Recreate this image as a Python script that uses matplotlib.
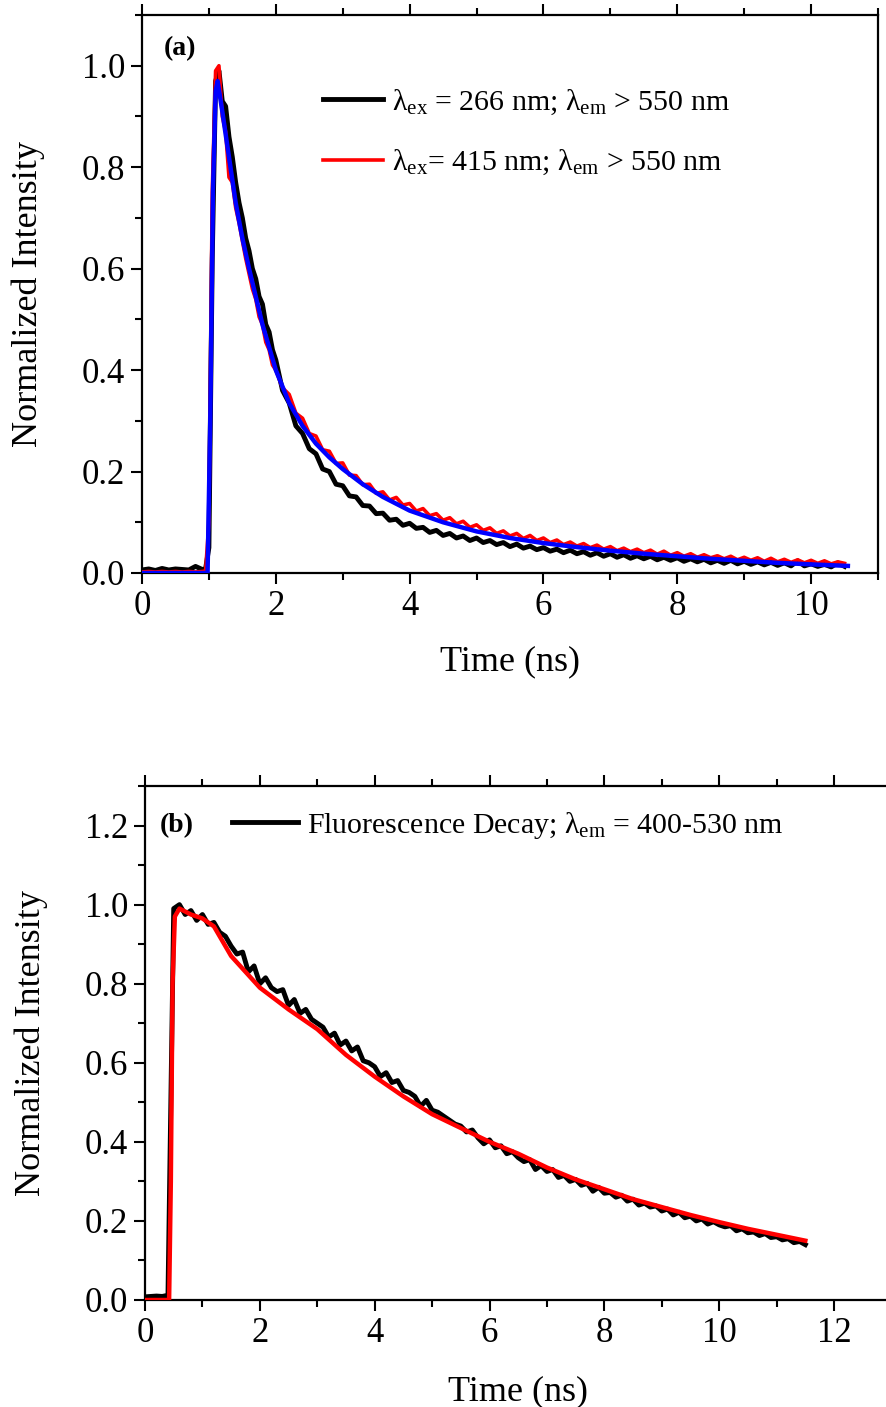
import numpy as np
import matplotlib
matplotlib.use('Agg')
import matplotlib.pyplot as plt
from matplotlib.ticker import MultipleLocator, FormatStrFormatter

plt.rcParams['font.family'] = ['Liberation Serif', 'DejaVu Serif']
plt.rcParams['mathtext.fontset'] = 'custom'
plt.rcParams['mathtext.rm'] = 'Liberation Serif'
plt.rcParams['mathtext.it'] = 'Liberation Serif:italic'
plt.rcParams['mathtext.bf'] = 'Liberation Serif:bold'

# ---------------- Panel (a) data ----------------
time_a = np.round(np.r_[np.arange(0, 10) * 0.1, np.arange(19, 40) * 0.05, np.arange(20, 106) * 0.1], 3)
black_a = [0.006, 0.008, 0.005, 0.009, 0.006, 0.008, 0.007, 0.006, 0.013, 0.007,
           0.008, 0.05, 0.62, 0.97, 0.99, 0.93, 0.92, 0.86, 0.82, 0.77, 0.73, 0.70, 0.66, 0.635, 0.60,
           0.58, 0.545, 0.53, 0.49, 0.475, 0.44,
           0.42, 0.36, 0.335, 0.29, 0.275, 0.245, 0.235, 0.205, 0.2, 0.175,
           0.172, 0.152, 0.15, 0.133, 0.132, 0.117, 0.118, 0.104, 0.106, 0.094,
           0.098, 0.088, 0.09, 0.08, 0.084, 0.074, 0.078, 0.069, 0.073, 0.064,
           0.069, 0.06, 0.064, 0.056, 0.06, 0.052, 0.057, 0.049, 0.053, 0.046,
           0.05, 0.043, 0.047, 0.04, 0.045, 0.038, 0.042, 0.035, 0.04, 0.033,
           0.038, 0.031, 0.036, 0.029, 0.034, 0.028, 0.033, 0.026, 0.031, 0.025,
           0.03, 0.023, 0.028, 0.022, 0.027, 0.02, 0.025, 0.019, 0.025, 0.018,
           0.023, 0.017, 0.022, 0.016, 0.021, 0.015, 0.02, 0.014, 0.024, 0.014,
           0.018, 0.013, 0.017, 0.012, 0.02, 0.013]
red_a = [0.002, 0.003, 0.002, 0.003, 0.002, 0.003, 0.002, 0.003, 0.002, 0.003,
         0.004, 0.1, 0.75, 0.99, 1.0, 0.9, 0.87, 0.78, 0.77, 0.72, 0.69, 0.655, 0.62, 0.59, 0.56,
         0.54, 0.505, 0.49, 0.455, 0.44, 0.41,
         0.40, 0.365, 0.352, 0.315, 0.305, 0.275, 0.27, 0.243, 0.24, 0.216,
         0.217, 0.193, 0.192, 0.174, 0.175, 0.157, 0.16, 0.144, 0.149, 0.134,
         0.137, 0.122, 0.127, 0.113, 0.117, 0.104, 0.109, 0.097, 0.102, 0.09,
         0.095, 0.084, 0.089, 0.078, 0.083, 0.073, 0.078, 0.068, 0.074, 0.064,
         0.069, 0.06, 0.065, 0.056, 0.061, 0.053, 0.058, 0.05, 0.055, 0.047,
         0.052, 0.044, 0.049, 0.042, 0.047, 0.04, 0.045, 0.037, 0.043, 0.035,
         0.04, 0.033, 0.038, 0.031, 0.036, 0.03, 0.034, 0.028, 0.033, 0.026,
         0.031, 0.025, 0.03, 0.023, 0.029, 0.022, 0.027, 0.021, 0.026, 0.02,
         0.025, 0.019, 0.024, 0.018, 0.022, 0.019]
fit_time_a = [0.0, 0.5, 0.98, 1.02, 1.06, 1.1, 1.13, 1.2, 1.3, 1.4, 1.5, 1.6, 1.7, 1.8, 1.9, 2.0,
              2.2, 2.4, 2.6, 2.8, 3.0, 3.3, 3.6, 4.0, 4.5, 5.0, 5.5, 6.0, 6.5, 7.0, 7.5, 8.0,
              8.5, 9.0, 9.5, 10.0, 10.55]
fit_a = [0.0, 0.0, 0.0, 0.3, 0.75, 0.95, 0.97, 0.91, 0.82, 0.73, 0.66, 0.60, 0.545, 0.49, 0.445, 0.40,
         0.335, 0.29, 0.255, 0.228, 0.205, 0.175, 0.15, 0.123, 0.1, 0.082, 0.069, 0.059, 0.051, 0.044,
         0.038, 0.033, 0.028, 0.024, 0.02, 0.017, 0.014]
labels_a = [r'λ$_{\mathrm{ex}}$ = 266 nm; λ$_{\mathrm{em}}$ > 550 nm',
            r'λ$_{\mathrm{ex}}$= 415 nm; λ$_{\mathrm{em}}$ > 550 nm']

# ---------------- Panel (b) data ----------------
time_b = np.round(np.arange(0, 116) * 0.1, 3)
black_b = [0.008, 0.009, 0.01, 0.009, 0.012, 0.99, 1.0, 0.975, 0.985, 0.96,
           0.975, 0.95, 0.955, 0.93, 0.92, 0.895, 0.875, 0.88, 0.83, 0.845,
           0.80, 0.815, 0.79, 0.78, 0.785, 0.745, 0.76, 0.725, 0.735, 0.71,
           0.70, 0.69, 0.665, 0.675, 0.645, 0.655, 0.63, 0.64, 0.605, 0.6,
           0.59, 0.565, 0.575, 0.55, 0.555, 0.53, 0.525, 0.515, 0.49, 0.505,
           0.48, 0.475, 0.465, 0.455, 0.445, 0.44, 0.425, 0.43, 0.41, 0.395,
           0.405, 0.385, 0.39, 0.37, 0.375, 0.36, 0.35, 0.355, 0.33, 0.34,
           0.325, 0.33, 0.31, 0.315, 0.3, 0.305, 0.29, 0.295, 0.275, 0.285,
           0.27, 0.272, 0.26, 0.265, 0.25, 0.255, 0.24, 0.245, 0.235, 0.238,
           0.225, 0.23, 0.215, 0.222, 0.208, 0.212, 0.2, 0.205, 0.192, 0.198,
           0.19, 0.185, 0.188, 0.175, 0.18, 0.17, 0.172, 0.163, 0.168, 0.158,
           0.16, 0.152, 0.155, 0.145, 0.148, 0.14]
fit_time_b = [0.0, 0.42, 0.45, 0.48, 0.52, 0.6, 0.8, 1.0, 1.2, 1.5, 2.0, 2.5, 3.0, 3.5, 4.0, 4.5,
              5.0, 5.5, 6.0, 6.5, 7.0, 7.5, 8.0, 8.5, 9.0, 9.5, 10.0, 10.5, 11.0, 11.5]
fit_b = [0.0, 0.0, 0.3, 0.8, 0.97, 0.99, 0.975, 0.965, 0.945, 0.87, 0.79, 0.735, 0.685, 0.62, 0.565,
         0.515, 0.47, 0.435, 0.40, 0.37, 0.335, 0.305, 0.28, 0.255, 0.235, 0.215, 0.197, 0.18, 0.165, 0.15]
label_b = r'Fluorescence Decay; λ$_{\mathrm{em}}$ = 400-530 nm'

# ---------------- Figure ----------------
W, H = 887, 1407
fig = plt.figure(figsize=(W / 100, H / 100), dpi=100)
axa = fig.add_axes([142 / W, 1 - 573 / H, 736 / W, 558 / H])
axb = fig.add_axes([145 / W, 1 - 1300 / H, 13 * 57.42 / W, 514 / H])

FS = 25
LFS = 21.5


def style(ax, xmax, ymax, xl, yl):
    ax.set_xlim(0, xmax)
    ax.set_ylim(0, ymax)
    ax.xaxis.set_major_locator(MultipleLocator(2))
    ax.xaxis.set_minor_locator(MultipleLocator(1))
    ax.yaxis.set_major_locator(MultipleLocator(0.2))
    ax.yaxis.set_minor_locator(MultipleLocator(0.1))
    ax.yaxis.set_major_formatter(FormatStrFormatter('%.1f'))
    ax.xaxis.set_major_formatter(FormatStrFormatter('%d'))
    ax.tick_params(which='both', direction='out', top=True, right=False,
                   labeltop=False, width=1.5, labelsize=FS, pad=4)
    ax.tick_params(which='major', length=8)
    ax.tick_params(which='minor', length=5)
    for s in ax.spines.values():
        s.set_linewidth(1.6)
    ax.set_xlabel('Time (ns)', fontsize=FS + 1)
    ax.set_ylabel('Normalized Intensity', fontsize=FS + 1)
    ax.xaxis.set_label_coords(0.5, xl)
    ax.yaxis.set_label_coords(yl, 0.5)


style(axa, 11, 1.1, -0.129, -0.132)
style(axb, 13, 1.3, -0.146, -0.13)

axa.plot(time_a, black_a, color='black', lw=3.5, label=labels_a[0], zorder=2)
axa.plot(time_a, red_a, color='red', lw=2.6, label=labels_a[1], zorder=3)
axa.plot(fit_time_a, fit_a, color='blue', lw=3.2, label='_nolegend_', zorder=4)
axa.legend(loc='center left', bbox_to_anchor=(0.246, 0.79), frameon=False, fontsize=LFS,
           handlelength=2.0, handletextpad=0.3, labelspacing=1.05, borderpad=0, borderaxespad=0)
axa.text(0.029, 0.94, '(a)', transform=axa.transAxes, fontsize=20, fontweight='bold', va='center')

axb.plot(time_b, black_b, color='black', lw=3.5, label=label_b, zorder=2)
axb.plot(fit_time_b, fit_b, color='red', lw=3.2, label='_nolegend_', zorder=3)
axb.legend(loc='center left', bbox_to_anchor=(0.1165, 0.924), frameon=False, fontsize=LFS,
           handlelength=2.2, handletextpad=0.3, borderpad=0, borderaxespad=0)
axb.text(0.02, 0.922, '(b)', transform=axb.transAxes, fontsize=20, fontweight='bold', va='center')

fig.savefig('out.png', dpi=100)
